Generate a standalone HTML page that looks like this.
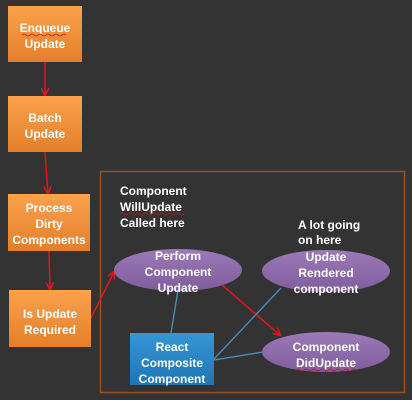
<!DOCTYPE html>
<html><head><style>
html,body{margin:0;padding:0;background:#333333;}
svg{display:block;}
text{font-family:"Liberation Sans",sans-serif;font-size:12px;font-weight:bold;fill:#fff;}
</style></head><body>
<svg width="412" height="400" viewBox="0 0 412 400" xmlns="http://www.w3.org/2000/svg">
<defs>
<linearGradient id="og" x1="0" y1="0" x2="0" y2="1"><stop offset="0" stop-color="#fba24c"/><stop offset="1" stop-color="#e47f2c"/></linearGradient>
<linearGradient id="pg" x1="0" y1="0" x2="0" y2="1"><stop offset="0" stop-color="#9c7ab8"/><stop offset="1" stop-color="#7f5c9c"/></linearGradient>
<linearGradient id="bg" x1="0" y1="0" x2="0" y2="1"><stop offset="0" stop-color="#3597d6"/><stop offset="1" stop-color="#1f74b4"/></linearGradient>
<marker id="ar" markerWidth="8" markerHeight="8" refX="7" refY="4" orient="auto" markerUnits="userSpaceOnUse"><path d="M0,0 L8,4 L0,8" fill="none" stroke="#e8141c" stroke-width="1.5"/></marker>
</defs>
<rect x="0" y="0" width="412" height="400" fill="#333"/>
<rect x="100.5" y="171.5" width="304" height="221" fill="none" stroke="#9a4f1c" stroke-width="1.5"/>
<!-- red connectors -->
<g stroke="#e8141c" stroke-width="1.5" fill="none" marker-end="url(#ar)">
<line x1="45" y1="62" x2="45" y2="95"/>
<line x1="45" y1="152" x2="48" y2="193"/>
<line x1="49" y1="251" x2="50" y2="289"/>
<line x1="91" y1="318" x2="114" y2="272"/>
<line x1="222" y1="285" x2="280" y2="335"/>
</g>
<!-- blue lines -->
<g stroke="#4a90c0" stroke-width="1.3">
<line x1="178" y1="290" x2="171" y2="333"/>
<line x1="214" y1="359" x2="281" y2="288"/>
<line x1="214" y1="360" x2="263" y2="352"/>
</g>
<!-- orange boxes -->
<rect x="8" y="6" width="74" height="56" fill="url(#og)"/>
<rect x="8" y="96" width="74" height="56" fill="url(#og)"/>
<rect x="8" y="194" width="82" height="57" fill="url(#og)"/>
<rect x="9" y="290" width="82" height="57" fill="url(#og)"/>
<g text-anchor="middle">
<text x="45" y="32">Enqueue</text><text x="45" y="48">Update</text>
<text x="45" y="122">Batch</text><text x="45" y="138">Update</text>
<text x="49" y="212">Process</text><text x="49" y="228">Dirty</text><text x="49" y="244">Components</text>
<text x="50" y="318">Is Update</text><text x="50" y="334">Required</text>
</g>
<!-- ellipses -->
<ellipse cx="178" cy="270" rx="64" ry="21" fill="url(#pg)"/>
<ellipse cx="326" cy="271" rx="64" ry="21" fill="url(#pg)"/>
<ellipse cx="326" cy="352" rx="64" ry="20" fill="url(#pg)"/>
<rect x="130" y="333" width="84" height="52" fill="url(#bg)"/>
<g text-anchor="middle">
<text x="178" y="260">Perform</text><text x="178" y="276">Component</text><text x="178" y="292">Update</text>
<text x="326" y="261">Update</text><text x="326" y="277">Rendered</text><text x="326" y="293">component</text>
<text x="326" y="351">Component</text><text x="326" y="367">DidUpdate</text>
<text x="172" y="351">React</text><text x="172" y="367">Composite</text><text x="172" y="383">Component</text>
</g>
<text x="120" y="195">Component</text>
<text x="120" y="211">WillUpdate</text>
<text x="120" y="227">Called here</text>
<text x="298" y="229">A lot going</text>
<text x="298" y="244">on here</text>
<g stroke="#d01010" stroke-width="0.8" fill="none">
<path d="M120,214 q2,-2 4,0 t4,0 t4,0 t4,0 t4,0 t4,0 t4,0 t4,0 t4,0 t4,0 t4,0 t4,0 t4,0 t4,0 t4,0 t4,0"/>
<path d="M296,370 q2,-2 4,0 t4,0 t4,0 t4,0 t4,0 t4,0 t4,0 t4,0 t4,0 t4,0 t4,0 t4,0 t4,0 t4,0 t4,0"/>
<path d="M22,35 q2,-2 4,0 t4,0 t4,0 t4,0 t4,0 t4,0 t4,0 t4,0 t4,0 t4,0 t4,0"/>
</g>
</svg>
</body></html>
